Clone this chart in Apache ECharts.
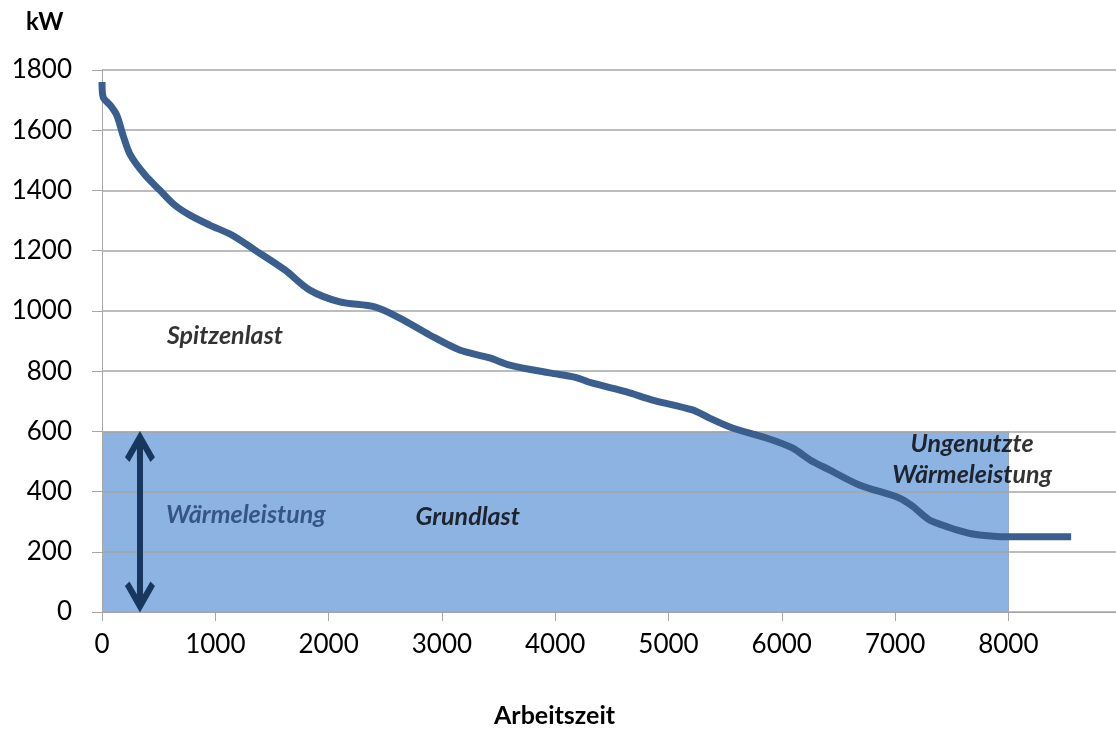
<!DOCTYPE html>
<html>
<head>
<meta charset="utf-8">
<script src="https://cdn.jsdelivr.net/npm/echarts@6/dist/echarts.min.js"></script>
<style>
  html, body { margin: 0; padding: 0; background: #ffffff; }
  #chart { width: 1116px; height: 731px; }
</style>
</head>
<body>
<div id="chart"></div>
<script>
// Geordnete Jahresdauerlinie der Wärmeleistung (Stunden, kW)
const hours = [0, 10, 70, 130, 185, 250, 380, 510, 640, 775, 950, 1146, 1350, 1614, 1834, 2099,
  2407, 2628, 2892, 3157, 3422, 3598, 3951, 4171, 4330, 4630, 4859, 5212, 5362, 5565, 5864,
  6093, 6250, 6420, 6684, 7037, 7152, 7302, 7416, 7550, 7700, 7900, 8100, 8554];
const loadKW = [1760, 1710, 1684, 1650, 1584, 1518, 1451, 1401, 1352, 1318, 1285, 1252, 1202, 1136, 1069, 1030,
  1013, 976, 920, 870, 844, 820, 794, 780, 760, 731, 704, 671, 644, 611, 578,
  545, 505, 472, 422, 379, 352, 306, 289, 272, 258, 251, 250, 250];

// Grundlast-Block: konstante Wärmeleistung bis 8000 h
const baseLoadHours = [0, 8000];
const baseLoadKW = 600;

// Doppelpfeil der Wärmeleistung (Stunden, kW von/bis, Mitte der Pfeilspitzen)
const arrowHour = 335;
const arrowRange = [50, 550];

// Achsen
const xTicks = [0, 1000, 2000, 3000, 4000, 5000, 6000, 7000, 8000];
const yTicks = [0, 200, 400, 600, 800, 1000, 1200, 1400, 1600, 1800];

// Beschriftungen im Diagramm [Stunden, kW, Text]
const notes = [
  [1085, 917, 'Spitzenlast'],
  [3228, 315, 'Grundlast'],
  [7680, 507, 'Ungenutzte\nWärmeleistung']
];
const heatNote = [1270, 322, 'Wärmeleistung'];

const FONT = 'Lato, "Open Sans", sans-serif';
// offene Pfeilspitze mit Schaft bis zur Unterkante
const chevron = 'path://M10,0 L20,17 L17,20 L12,11.5 L12,20 L8,20 L8,11.5 L3,20 L0,17 Z';

const chart = echarts.init(document.getElementById('chart'), null, { renderer: 'canvas' });

chart.setOption({
  animation: false,
  backgroundColor: '#ffffff',
  textStyle: { fontFamily: FONT },
  grid: { left: 102, top: 70, width: 1014, height: 542, containLabel: false },
  title: {
    text: 'kW', left: 21, top: 5,
    textStyle: { fontFamily: FONT, fontSize: 24, fontWeight: 'bold', color: '#000' }
  },
  graphic: [{
    type: 'text', left: 494, top: 703,
    style: { text: 'Arbeitszeit', fill: '#000', font: 'bold 25px ' + FONT }
  }],
  xAxis: {
    type: 'value', min: 0, max: 8950, interval: 1000,
    axisLine: { show: true, lineStyle: { color: '#a6a6a6', width: 1 } },
    axisTick: { show: true, length: 9, lineStyle: { color: '#a6a6a6' } },
    axisLabel: {
      showMaxLabel: false, margin: 20, fontSize: 26, color: '#000', fontFamily: FONT,
      formatter: v => (xTicks.includes(v) ? String(v) : '')
    },
    splitLine: { show: false }
  },
  yAxis: {
    type: 'value', min: 0, max: 1800, interval: 200, z: 3,
    axisLine: { show: true, lineStyle: { color: '#a6a6a6', width: 1 } },
    axisTick: { show: true, length: 10, inside: false, lineStyle: { color: '#a6a6a6' } },
    axisLabel: {
      margin: 30, fontSize: 26, color: '#000', fontFamily: FONT,
      formatter: v => (yTicks.includes(v) ? String(v) : '')
    },
    splitLine: { show: true, lineStyle: { color: '#a6a6a6', width: 1.5 } }
  },
  series: [
    {
      // Grundlast-Fläche
      type: 'line', z: 1,
      data: baseLoadHours.map(h => [h, baseLoadKW]),
      symbol: 'none',
      lineStyle: { width: 0, opacity: 0 },
      areaStyle: { color: '#8db3e2', opacity: 1 },
      silent: true,
      markLine: {
        silent: true, symbol: 'none', z: 1,
        label: { show: false },
        lineStyle: { color: '#a6a6a6', width: 1, type: 'solid' },
        data: [[{ coord: [8000, 0] }, { coord: [8000, baseLoadKW] }]]
      }
    },
    {
      // Jahresdauerlinie
      type: 'line', z: 5,
      data: hours.map((h, i) => [h, loadKW[i]]),
      symbol: 'none', smooth: 0.3,
      lineStyle: { color: '#3a5f8e', width: 7, cap: 'butt', join: 'round' }
    },
    {
      // Doppelpfeil
      type: 'line', z: 6,
      data: [],
      markLine: {
        silent: true,
        symbol: [chevron, chevron],
        symbolSize: [30, 31],
        label: { show: false },
        lineStyle: { color: '#17375e', width: 6, type: 'solid' },
        itemStyle: { color: '#17375e' },
        data: [[{ coord: [arrowHour, arrowRange[0]] }, { coord: [arrowHour, arrowRange[1]] }]]
      }
    },
    {
      // Texte
      type: 'scatter', z: 7,
      symbolSize: 0,
      data: notes.map(n => ({ value: [n[0], n[1]], name: n[2] })),
      label: {
        show: true, position: 'inside', formatter: p => p.name,
        fontFamily: FONT, fontSize: 25, fontWeight: 'bold', fontStyle: 'italic',
        color: '#000', lineHeight: 31, align: 'center'
      }
    },
    {
      type: 'scatter', z: 7,
      symbolSize: 0,
      data: [{ value: [heatNote[0], heatNote[1]], name: heatNote[2] }],
      label: {
        show: true, position: 'inside', formatter: p => p.name,
        fontFamily: FONT, fontSize: 25, fontWeight: 'bold', fontStyle: 'italic',
        color: '#1f3f6e'
      }
    }
  ]
});
</script>
</body>
</html>
